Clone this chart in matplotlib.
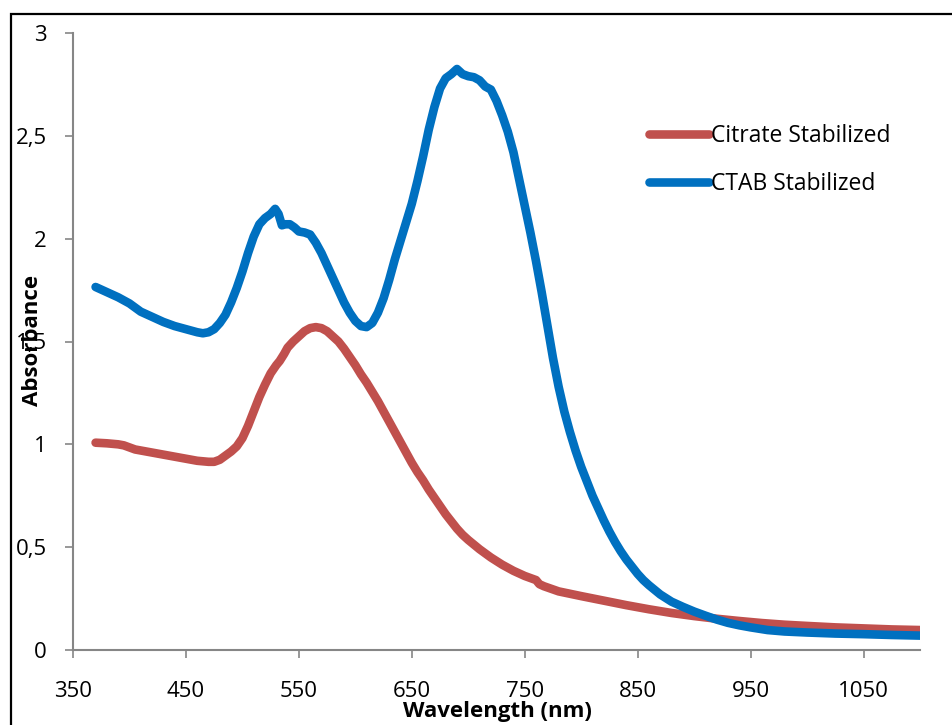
import matplotlib
matplotlib.use("Agg")
import matplotlib.pyplot as plt
from matplotlib.patches import Rectangle
from matplotlib.ticker import FuncFormatter

# UV-Vis spectra of the two gold colloids
wl_ctab = [370, 380, 390, 400, 410, 420, 430, 440, 450, 460, 465, 470, 475, 480,
           485, 490, 495, 500, 505, 510, 515, 520, 525, 529, 532, 535, 538, 542,
           546, 550, 555, 560, 565, 570, 575, 580, 585, 590, 595, 600, 605, 610,
           615, 620, 625, 630, 635, 640, 645, 650, 655, 660, 665, 670, 675, 680,
           685, 690, 695, 700, 705, 710, 715, 720, 725, 730, 735, 740, 745, 750,
           755, 760, 765, 770, 775, 780, 785, 790, 795, 800, 805, 810, 815, 820,
           825, 830, 835, 840, 845, 850, 855, 860, 870, 880, 890, 900, 910, 920,
           930, 940, 950, 965, 980, 1000, 1025, 1050, 1075, 1100]
abs_ctab = [1.765, 1.74, 1.715, 1.685, 1.645, 1.62, 1.595, 1.575, 1.56, 1.545,
            1.54, 1.545, 1.56, 1.59, 1.63, 1.69, 1.76, 1.84, 1.93, 2.01, 2.07,
            2.10, 2.12, 2.145, 2.12, 2.065, 2.07, 2.07, 2.055, 2.035, 2.03, 2.02,
            1.98, 1.93, 1.87, 1.81, 1.75, 1.69, 1.64, 1.60, 1.575, 1.57, 1.59,
            1.64, 1.71, 1.80, 1.90, 1.99, 2.08, 2.17, 2.28, 2.40, 2.53, 2.64,
            2.73, 2.78, 2.80, 2.825, 2.80, 2.79, 2.785, 2.77, 2.74, 2.725, 2.67,
            2.60, 2.52, 2.42, 2.29, 2.16, 2.03, 1.89, 1.74, 1.58, 1.42, 1.28,
            1.16, 1.06, 0.97, 0.89, 0.82, 0.75, 0.69, 0.63, 0.575, 0.525, 0.48,
            0.44, 0.405, 0.37, 0.34, 0.315, 0.27, 0.235, 0.21, 0.187, 0.167,
            0.148, 0.132, 0.12, 0.11, 0.097, 0.09, 0.085, 0.08, 0.077, 0.073,
            0.07]

wl_cit = [370, 380, 390, 395, 400, 405, 410, 420, 430, 440, 450, 460, 470, 475,
          480, 485, 490, 495, 500, 505, 510, 515, 520, 525, 530, 533, 537, 540,
          545, 550, 555, 560, 565, 570, 575, 580, 585, 590, 595, 600, 605, 610,
          615, 620, 625, 630, 635, 640, 645, 650, 655, 660, 665, 670, 675, 680,
          685, 690, 695, 700, 710, 720, 730, 740, 750, 760, 763, 767, 780, 800,
          820, 840, 860, 880, 900, 920, 940, 960, 980, 1000, 1025, 1050, 1075,
          1100]
abs_cit = [1.008, 1.005, 1.0, 0.995, 0.985, 0.975, 0.97, 0.96, 0.95, 0.94, 0.93,
           0.92, 0.915, 0.915, 0.925, 0.945, 0.965, 0.99, 1.03, 1.09, 1.16, 1.23,
           1.29, 1.345, 1.385, 1.405, 1.44, 1.47, 1.50, 1.525, 1.55, 1.565, 1.57,
           1.565, 1.55, 1.525, 1.50, 1.465, 1.425, 1.385, 1.34, 1.30, 1.255, 1.21,
           1.16, 1.11, 1.06, 1.01, 0.96, 0.91, 0.865, 0.825, 0.78, 0.74, 0.70,
           0.66, 0.625, 0.59, 0.56, 0.535, 0.49, 0.45, 0.415, 0.385, 0.36, 0.34,
           0.32, 0.31, 0.285, 0.262, 0.24, 0.218, 0.198, 0.18, 0.165, 0.152,
           0.141, 0.131, 0.123, 0.117, 0.11, 0.105, 0.10, 0.097]

x_ticks = [350, 450, 550, 650, 750, 850, 950, 1050]
y_ticks = [0, 0.5, 1, 1.5, 2, 2.5, 3]

RED = "#c0504d"
BLUE = "#0070c0"
AXIS = "#868686"

plt.rcParams["font.family"] = ["Open Sans", "DejaVu Sans"]

fig = plt.figure(figsize=(9.52, 7.25), dpi=100)
ax = fig.add_axes([73 / 952, 1 - 650 / 725, (920 - 73) / 952, (650 - 33) / 725])

ax.plot(wl_cit, abs_cit, color=RED, lw=6.2, solid_capstyle="round",
        solid_joinstyle="round", label="Citrate Stabilized")
ax.plot(wl_ctab, abs_ctab, color=BLUE, lw=6.2, solid_capstyle="round",
        solid_joinstyle="round", label="CTAB Stabilized")

ax.set_xlim(350, 1100)
ax.set_ylim(0, 3)
ax.set_xticks(x_ticks)
ax.set_yticks(y_ticks)
ax.yaxis.set_major_formatter(FuncFormatter(lambda v, p: f"{v:g}".replace(".", ",")))
ax.tick_params(direction="out", length=6, width=1.2, color=AXIS, labelsize=16,
               labelcolor="black")
ax.tick_params(axis="x", pad=16)
ax.tick_params(axis="y", pad=13)
for s in ("top", "right"):
    ax.spines[s].set_visible(False)
for s in ("left", "bottom"):
    ax.spines[s].set_color(AXIS)
    ax.spines[s].set_linewidth(1.5)

ax.legend(loc="upper left", bbox_to_anchor=(649 / 952, 1 - 124 / 725),
          bbox_transform=fig.transFigure, frameon=False, fontsize=16.5,
          handlelength=2.6, handletextpad=0.1, labelspacing=1.05,
          borderpad=0, borderaxespad=0)

fig.text(497 / 952, 1 - 711 / 725, "Wavelength (nm)", ha="center", va="center",
         fontsize=16, fontweight="bold")
fig.text(33 / 952, 1 - 340 / 725, "Absorbance", ha="center", va="center",
         rotation=90, fontsize=16, fontweight="bold")

# outer chart frame
fig.patches.append(Rectangle((11 / 952, -0.1), 1.0, 1 - 14 / 725 + 0.1,
                             transform=fig.transFigure, fill=False,
                             ec="black", lw=1.6))

fig.savefig("out.png", dpi=100, facecolor="white")
